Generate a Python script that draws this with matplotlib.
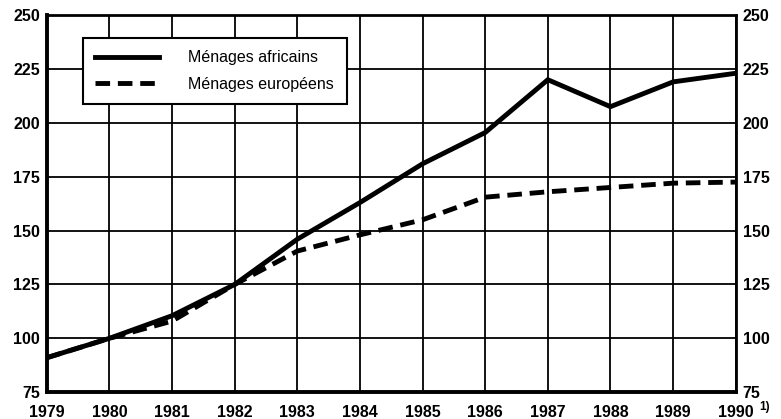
import matplotlib.pyplot as plt

plt.rcParams['font.family'] = ['Liberation Sans', 'DejaVu Sans']

years = [1979, 1980, 1981, 1982, 1983, 1984, 1985, 1986, 1987, 1988, 1989, 1990]
africains = [91, 100, 110.5, 125, 146, 163, 181, 195.5, 220, 207.5, 219, 223]
europeens = [91, 100, 108, 125, 140.5, 148, 155, 165.5, 168, 170, 172, 172.5]
y_ticks = [75, 100, 125, 150, 175, 200, 225, 250]
x_labels = [str(y) for y in years]

fig = plt.figure(figsize=(7.81, 4.19), dpi=100)
ax = fig.add_axes([0.060, 0.064, 0.882, 0.900])

ax.plot(years, africains, color='black', lw=3.5, solid_joinstyle='miter',
        label='Ménages africains', zorder=3)
ax.plot(years, europeens, color='black', lw=3.5, dashes=(3, 1.6),
        label='Ménages européens', zorder=3)

ax.set_xlim(1979, 1990)
ax.set_ylim(75, 250)
ax.set_xticks(years)
ax.set_xticklabels(x_labels)
ax.set_yticks(y_ticks)
ax.grid(True, color='black', lw=1.3)
ax.tick_params(length=0, labelsize=11.5, pad=9)
ax.tick_params(axis='y', labelleft=True, labelright=True, pad=5)
for lbl in ax.get_xticklabels() + ax.get_yticklabels():
    lbl.set_fontweight('bold')
for t in ax.yaxis.get_major_ticks():
    t.label2.set_fontweight('bold')

# footnote mark next to 1990
ax.annotate('1)', xy=(1990, 75), xytext=(17, -6), textcoords='offset points',
            fontsize=8.5, fontweight='bold', ha='left', va='top',
            annotation_clip=False)

for side in ['left', 'bottom']:
    ax.spines[side].set_linewidth(2.8)
for side in ['top', 'right']:
    ax.spines[side].set_linewidth(2)

leg = ax.legend(loc='upper left', bbox_to_anchor=(0.052, 0.94), fontsize=11.5,
                handlelength=4.0, handletextpad=1.8, labelspacing=0.7,
                borderpad=0.8, borderaxespad=0, fancybox=False, framealpha=1)
leg.get_frame().set_edgecolor('black')
leg.get_frame().set_linewidth(1.5)
leg.set_zorder(5)

fig.savefig('out.png', dpi=100)
